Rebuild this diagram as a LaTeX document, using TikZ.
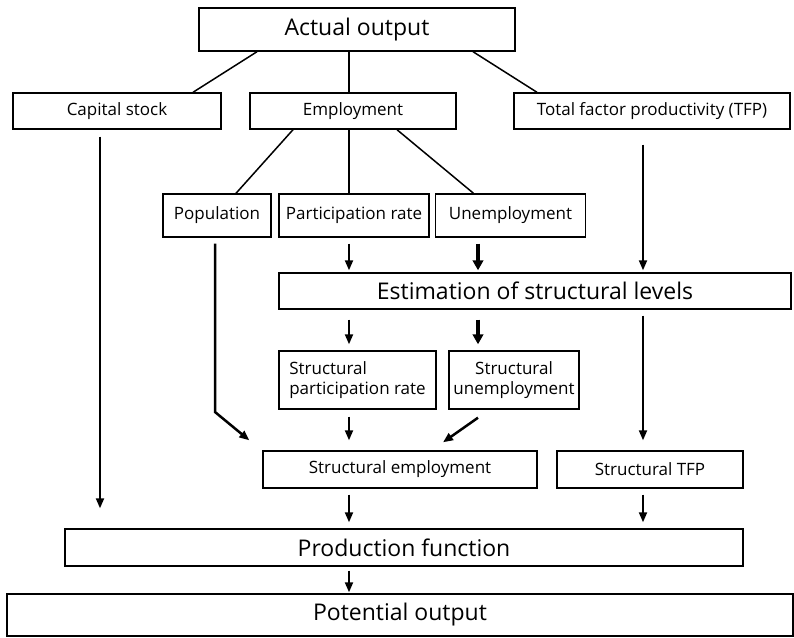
\documentclass[tikz,border=0pt]{standalone}
\usepackage{fontspec}
\setmainfont{Open Sans}
\usetikzlibrary{arrows.meta,positioning}

\begin{document}
\begin{tikzpicture}[x=1pt,y=-1pt,
  box/.style={draw,line width=1.4pt,inner sep=2pt,align=center},
  small/.style={box,font=\fontsize{17}{20.5}\selectfont},
  big/.style={box,font=\fontsize{23}{27}\selectfont},
  link/.style={line width=1.5pt},
  arr/.style={line width=2pt,-{Triangle[length=10pt,width=8pt]},shorten <=6pt,shorten >=4pt},
  fat/.style={arr,line width=3.5pt,-{Triangle[length=10pt,width=10.5pt]}}
]
\useasboundingbox (0,0) rectangle (794,637);

% columns the arrows run along
\coordinate (kcol) at (100,0);
\coordinate (ecol) at (349,0);
\coordinate (ucol) at (478,0);
\coordinate (tcol) at (643,0);

\node[big,minimum width=316pt,minimum height=43pt] (act) at (357,29.5) {Actual output};

\node[small,minimum width=208pt,minimum height=36pt] (cap) at (117,111) {Capital stock};
\node[small,minimum width=206pt,minimum height=36pt] (emp) at (353,111) {Employment};
\node[small,minimum width=276pt,minimum height=36pt] (tfp) at (652,111) {Total factor productivity (TFP)};

\node[small,minimum width=108pt,minimum height=43pt] (pop) at (217,215.5) {Population};
\node[small,minimum width=150pt,minimum height=43pt] (part) at (354,215.5) {Participation rate};
\node[small,minimum width=150pt,minimum height=43pt] (unemp) at (510.5,215.5) {Unemployment};

\node[big,minimum width=512pt,minimum height=36pt] (est) at (535,291) {Estimation of structural levels};

\node[small,align=left,minimum width=157pt,minimum height=58pt] (spart) at (357.5,380) {Structural\\participation rate};
\node[small,minimum width=130pt,minimum height=58pt] (sunemp) at (514,380) {Structural\\unemployment};

\node[small,minimum width=274pt,minimum height=37pt] (semp) at (400,469.5) {Structural employment};
\node[small,minimum width=186pt,minimum height=37pt] (stfp) at (650,469.5) {Structural TFP};

\node[big,minimum width=678pt,minimum height=37pt] (prod) at (404,547.5) {Production function};
\node[big,minimum width=786pt,minimum height=42pt] (pot) at (400,615) {Potential output};

% tree lines
\draw[link] ([xshift=-100pt]act.south) -- ([xshift=76pt]cap.north);
\draw[link] (act.south -| ecol) -- (emp.north -| ecol);
\draw[link] ([xshift=116pt]act.south) -- ([xshift=-115pt]tfp.north);
\draw[link] ([xshift=-60pt]emp.south) -- ([xshift=19pt]pop.north);
\draw[link] (emp.south -| ecol) -- (part.north -| ecol);
\draw[link] ([xshift=44pt]emp.south) -- ([xshift=-37pt]unemp.north);

% arrows
\coordinate (bend) at (215,412);
\draw[arr,shorten <=7pt,shorten >=20pt] (cap.south -| kcol) -- (prod.north -| kcol);
\draw[arr,line width=2.5pt,shorten >=0pt] ([xshift=-2pt]pop.south) -- (bend) -- ([xshift=-13pt,yshift=10pt]semp.north west);
\draw[arr,shorten >=2pt] (part.south -| ecol) -- (est.north -| ecol);
\draw[fat,shorten >=2pt] (unemp.south -| ucol) -- (est.north -| ucol);
\draw[arr,shorten <=15pt,shorten >=2pt] (tfp.south -| tcol) -- (est.north -| tcol);
\draw[arr,shorten <=10pt,shorten >=6pt] (est.south -| ecol) -- (spart.north -| ecol);
\draw[fat,shorten <=10pt,shorten >=6pt] (est.south -| ucol) -- (sunemp.north -| ucol);
\draw[arr,shorten >=10pt] (est.south -| tcol) -- (stfp.north -| tcol);
\draw[arr,shorten <=7pt,shorten >=10pt] (spart.south -| ecol) -- (semp.north -| ecol);
\draw[arr,line width=2.5pt,shorten <=0pt,shorten >=0pt] ([xshift=-36pt,yshift=-8pt]sunemp.south) -- ([xshift=43pt,yshift=8pt]semp.north);
\draw[arr,shorten >=6pt] (semp.south -| ecol) -- (prod.north -| ecol);
\draw[arr,shorten >=6pt] (stfp.south -| tcol) -- (prod.north -| tcol);
\draw[arr,shorten <=4pt,shorten >=1pt] (prod.south -| ecol) -- (pot.north -| ecol);
\end{tikzpicture}
\end{document}
